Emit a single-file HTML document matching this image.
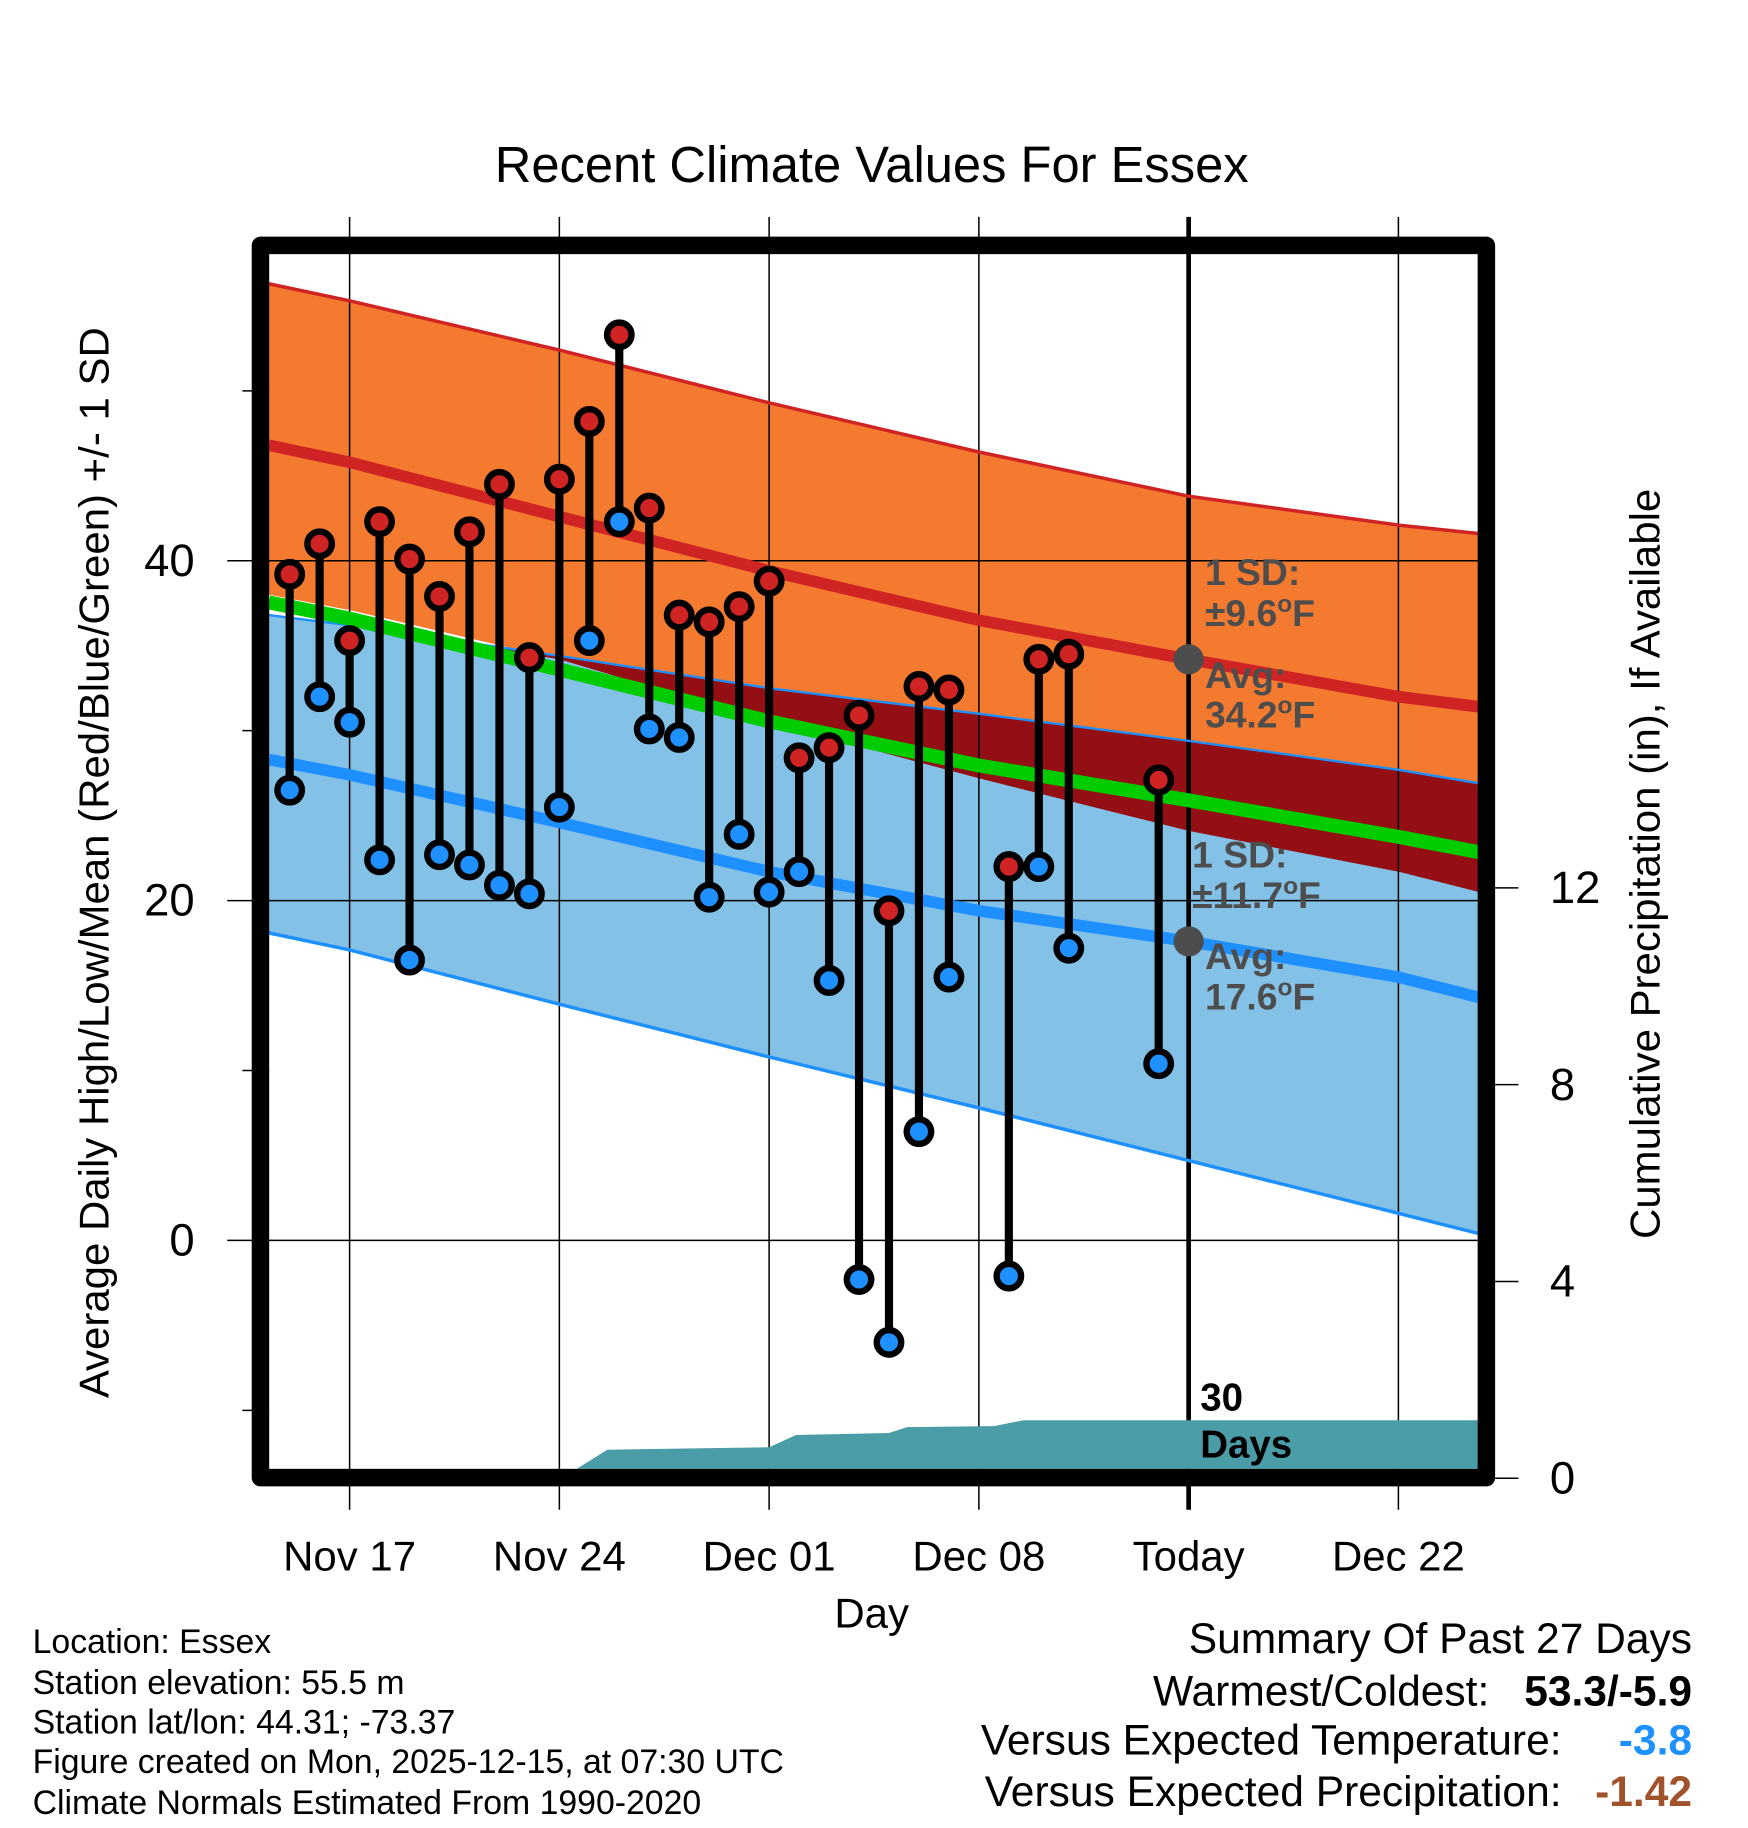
<!DOCTYPE html>
<html><head><meta charset="utf-8">
<style>
html,body{margin:0;padding:0;background:#fff;}
svg{display:block;font-family:"Liberation Sans",Arial,sans-serif;}
</style></head>
<body>
<svg id="chart" width="1748" height="1828" viewBox="0 0 1500 1568" preserveAspectRatio="none" xmlns="http://www.w3.org/2000/svg">
<g id="bands"></g>
<g id="grid"></g>
<g id="precip"></g>
<g id="lines"></g>
<g id="stems"></g>
<g id="ann"></g>
<g id="axes"></g>
<text x="748" y="156" font-size="43.5" text-anchor="middle">Recent Climate Values For Essex</text>
<text transform="translate(93,740) rotate(-90)" font-size="36" text-anchor="middle">Average Daily High/Low/Mean (Red/Blue/Green) +/- 1 SD</text>
<text transform="translate(1424,741) rotate(-90)" font-size="36" text-anchor="middle">Cumulative Precipitation (in), If Available</text>
<text x="748" y="1396" font-size="36" text-anchor="middle">Day</text>
<g font-size="29">
<text x="28" y="1418">Location: Essex</text>
<text x="28" y="1453">Station elevation: 55.5 m</text>
<text x="28" y="1487">Station lat/lon: 44.31; -73.37</text>
<text x="28" y="1521">Figure created on Mon, 2025-12-15, at 07:30 UTC</text>
<text x="28" y="1556">Climate Normals Estimated From 1990-2020</text>
</g>
<g font-size="36.5">
<text x="1452" y="1418" text-anchor="end">Summary Of Past 27 Days</text>
<text x="1278" y="1463" text-anchor="end">Warmest/Coldest:</text>
<text x="1452" y="1463" text-anchor="end" font-weight="bold">53.3/-5.9</text>
<text x="1340" y="1505" text-anchor="end">Versus Expected Temperature:</text>
<text x="1452" y="1505" text-anchor="end" font-weight="bold" fill="#1e90ff">-3.8</text>
<text x="1340" y="1549" text-anchor="end">Versus Expected Precipitation:</text>
<text x="1452" y="1549" text-anchor="end" font-weight="bold" fill="#a0522d">-1.42</text>
</g>
</svg>
<script>
// Normals (days relative to Nov 17)
const normDays = [-2.7, 0, 7, 14, 21, 28, 35, 37.7];
const highMean = [46.8, 45.8, 42.6, 39.4, 36.5, 34.2, 32.0, 31.4];
const highUpper = [56.3, 55.3, 52.4, 49.3, 46.4, 43.8, 42.1, 41.6];
const highLower = [38.0, 37.1, 34.2, 30.5, 27.2, 24.1, 21.7, 20.5];
const lowMean = [28.3, 27.4, 24.6, 21.7, 19.4, 17.6, 15.5, 14.3];
const lowUpper = [36.8, 36.2, 34.4, 32.5, 31.0, 29.4, 27.7, 26.9];
const lowLower = [18.1, 17.1, 13.9, 10.8, 7.8, 4.7, 1.6, 0.4];
// Observations
const obsDays = [-2,-1,0,1,2,3,4,5,6,7,8,9,10,11,12,13,14,15,16,17,18,19,20,22,23,24,27];
const obsHigh = [39.2,41.0,35.3,42.3,40.1,37.9,41.7,44.5,34.3,44.8,48.2,53.3,43.1,36.8,36.4,37.3,38.8,28.4,29.0,30.9,19.4,32.6,32.4,22.0,34.2,34.5,27.1];
const obsLow = [26.5,32.0,30.5,22.4,16.5,22.7,22.1,20.9,20.4,25.5,35.3,42.3,30.1,29.6,20.2,23.9,20.5,21.7,15.3,-2.3,-6.0,6.4,15.5,-2.1,22.0,17.2,10.4];
// Cumulative precipitation (inches)
const precipDays = [-2.7, 1, 3, 7, 7.6, 8.6, 14, 14.9, 18, 18.6, 21.5, 22.5, 37.7];
const precipVals = [0, 0.01, 0.05, 0.07, 0.2, 0.58, 0.63, 0.88, 0.92, 1.04, 1.06, 1.18, 1.18];
const xTickDays = [0, 7, 14, 21, 28, 35];
const xTickLabels = ["Nov 17","Nov 24","Dec 01","Dec 08","Today","Dec 22"];
const yTicks = [0, 20, 40];
const yMinor = [-10, 10, 30, 50];
const y2Ticks = [0, 4, 8, 12];

const NS = "http://www.w3.org/2000/svg";
const X = d => 300 + d * 180 / 7;
const Y = t => 1064 - t * 14.575;
const Y2 = p => 1268 - p * 42.2;
const L = 231, R = 1268, T = 216, B = 1260;
function mk(tag, attrs, parent){const e=document.createElementNS(NS,tag);for(const k in attrs)e.setAttribute(k,attrs[k]);parent.appendChild(e);return e;}
const pts = (days, vals, fy) => days.map((d,i)=>X(d).toFixed(1)+","+fy(vals[i]).toFixed(1));
const g = id => document.getElementById(id);

let e;
e = mk("polygon",{points: pts(normDays,highUpper,Y).concat(pts(normDays,highLower,Y).reverse()).join(" "), fill:"#f47a30"}, g("bands"));
 
e = mk("polygon",{points: pts(normDays,lowUpper,Y).concat(pts(normDays,lowLower,Y).reverse()).join(" "), fill:"#84c1e6"}, g("bands"));
 
const overlapLow = lowUpper.map((v,i)=>Math.min(v, highLower[i]));
e = mk("polygon",{points: pts(normDays,lowUpper,Y).concat(pts(normDays,overlapLow,Y).reverse()).join(" "), fill:"#940f14"}, g("bands"));
 

xTickDays.forEach((d,i)=>{
  const el = mk("line",{x1:X(d),x2:X(d),y1:186,y2:1295,stroke:"#000","stroke-width":i==4?4:1.3}, g("grid"));
   
});
yTicks.forEach(t=>{
  const el = mk("line",{x1:195,x2:R,y1:Y(t),y2:Y(t),stroke:"#000","stroke-width":1.3}, g("grid"));
   
});
yMinor.forEach(t=>{
  const el = mk("line",{x1:208,x2:L,y1:Y(t),y2:Y(t),stroke:"#000","stroke-width":1.3}, g("grid"));
   
});

e = mk("polygon",{points: pts(precipDays,precipVals,Y2).concat([X(37.7)+","+B, X(-2.7)+","+B]).join(" "), fill:"#4a9ca6"}, g("precip"));
 

function pl(vals,color,w,name){const el=mk("polyline",{points:pts(normDays,vals,Y).join(" "),fill:"none",stroke:color,"stroke-width":w},g("lines"));}
pl(highUpper,"#d02323",3,"high-plus-sd-line");
pl(lowUpper,"#1e90ff",2,"low-plus-sd-line");
pl(lowLower,"#1e90ff",3,"low-minus-sd-line");
pl(highMean,"#d02323",10,"mean-high-line");
pl(lowMean,"#1e90ff",10,"mean-low-line");
pl(highMean.map((v,i)=>(v+lowMean[i])/2),"#00cc00",12,"mean-line");

obsDays.forEach((d,i)=>{
  const x=X(d);
  let s=mk("line",{x1:x,x2:x,y1:Y(obsHigh[i]),y2:Y(obsLow[i]),stroke:"#000","stroke-width":7},g("stems"));
   
  let c=mk("circle",{cx:x,cy:Y(obsHigh[i]),r:10.5,fill:"#d02323",stroke:"#000","stroke-width":5.5},g("stems"));
   
  let c2=mk("circle",{cx:x,cy:Y(obsLow[i]),r:10.5,fill:"#1e90ff",stroke:"#000","stroke-width":5.5},g("stems"));
   
});

const ann = g("ann");
e=mk("circle",{cx:X(28),cy:Y(highMean[5]),r:13,fill:"#4d4d4d"},ann);
 
e=mk("circle",{cx:X(28),cy:Y(lowMean[5]),r:13,fill:"#4d4d4d"},ann);
 
ann.insertAdjacentHTML("beforeend",
 '<g font-size="32" font-weight="bold" fill="#4d4d4d">'+
 '<text x="1034" y="502">1 SD:</text>'+
 '<text x="1034" y="537">±9.6<tspan font-size="21" dy="-12">o</tspan><tspan dy="12">F</tspan></text>'+
 '<text x="1034" y="590">Avg:</text>'+
 '<text x="1034" y="624">34.2<tspan font-size="21" dy="-12">o</tspan><tspan dy="12">F</tspan></text>'+
 '<text x="1023" y="744">1 SD:</text>'+
 '<text x="1023" y="779">±11.7<tspan font-size="21" dy="-12">o</tspan><tspan dy="12">F</tspan></text>'+
 '<text x="1034" y="831">Avg:</text>'+
 '<text x="1034" y="866">17.6<tspan font-size="21" dy="-12">o</tspan><tspan dy="12">F</tspan></text>'+
 '</g>'+
 '<g font-size="33" font-weight="bold" fill="#000">'+
 '<text x="1030" y="1210">30</text>'+
 '<text x="1030" y="1250">Days</text></g>');

const ax = g("axes");
e=mk("rect",{x:223.5,y:210.5,width:1052,height:1057,fill:"none",stroke:"#000","stroke-width":15,"stroke-linejoin":"round"},ax);
 
xTickDays.forEach((d,i)=>{
  const t=mk("text",{x:X(d),y:1347,"font-size":36,"text-anchor":"middle"},ax);
  t.textContent=xTickLabels[i];
   
});
yTicks.forEach(v=>{
  const t=mk("text",{x:167,y:Y(v)+13,"font-size":39,"text-anchor":"end"},ax);
  t.textContent=v;
   
});
y2Ticks.forEach(v=>{
  const l=mk("line",{x1:1283,x2:1303,y1:Y2(v),y2:Y2(v),stroke:"#000","stroke-width":1.3},ax);
   
  const t=mk("text",{x:1330,y:Y2(v)+13,"font-size":39},ax);
  t.textContent=v;
   
});
</script>
</body></html>
